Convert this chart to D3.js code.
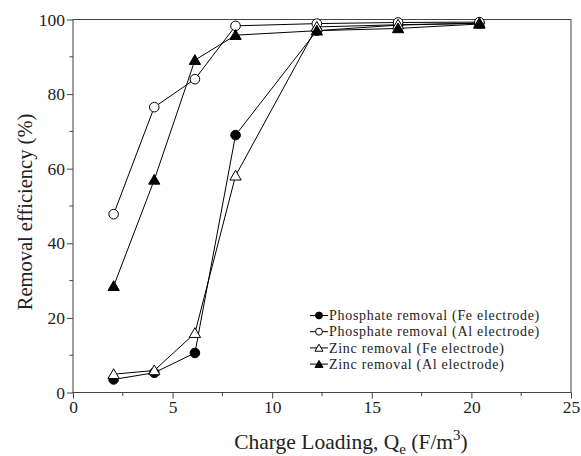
<!DOCTYPE html>
<html lang="en">
<head>
  <meta charset="UTF-8">
  <title>Removal efficiency vs charge loading</title>
  <script src="https://d3js.org/d3.v7.min.js"></script>
  <style>
    body, html { margin: 0; padding: 0; background: #fff; }
    svg { display: block; font-family: "Liberation Serif", "Times New Roman", serif; }
    .axis path, .axis line { stroke: #444; }
    .axis text { font-family: "Liberation Serif", "Times New Roman", serif; font-size: 17.5px; fill: #222; }
  </style>
</head>
<body>
  <svg id="chart" width="581" height="456"></svg>
  <script>
    // Data
    const charge = [2.04, 4.08, 6.12, 8.16, 12.24, 16.32, 20.4];
    const phosFe = [3.5, 5.3, 10.6, 69.0, 97.0, 98.5, 99.0];
    const phosAl = [47.8, 76.5, 84.0, 98.3, 98.9, 99.2, 99.3];
    const zincFe = [4.9, 5.9, 15.9, 58.1, 98.0, 98.6, 99.0];
    const zincAl = [28.5, 57.0, 89.1, 95.8, 97.0, 97.6, 98.8];
    const xTicks = [0, 5, 10, 15, 20, 25];
    const yTicks = [0, 20, 40, 60, 80, 100];

    const series = [
      { name: 'Phosphate removal (Fe electrode)', values: phosFe, shape: 'circle', fill: '#000' },
      { name: 'Phosphate removal (Al electrode)', values: phosAl, shape: 'circle', fill: '#fff' },
      { name: 'Zinc removal (Fe electrode)', values: zincFe, shape: 'triangle', fill: '#fff' },
      { name: 'Zinc removal (Al electrode)', values: zincAl, shape: 'triangle', fill: '#000' }
    ];

    const W = 581, H = 456;
    const margin = { top: 19.5, right: 10, bottom: 63.5, left: 73 };
    const svg = d3.select('#chart');

    const x = d3.scaleLinear().domain([0, 25]).range([margin.left, W - margin.right]);
    const y = d3.scaleLinear().domain([0, 100]).range([H - margin.bottom, margin.top]);

    // frame
    svg.append('rect')
      .attr('x', margin.left).attr('y', margin.top)
      .attr('width', W - margin.left - margin.right)
      .attr('height', H - margin.top - margin.bottom)
      .attr('fill', 'none').attr('stroke', '#444');

    // minor ticks
    const minorX = d3.range(2.5, 25, 5);
    const minorY = d3.range(10, 100, 20);
    svg.append('g').selectAll('line').data(minorX).join('line')
      .attr('x1', d => x(d)).attr('x2', d => x(d))
      .attr('y1', y(0)).attr('y2', y(0) + 3.5).attr('stroke', '#444');
    svg.append('g').selectAll('line').data(minorY).join('line')
      .attr('y1', d => y(d)).attr('y2', d => y(d))
      .attr('x1', x(0)).attr('x2', x(0) - 3.5).attr('stroke', '#444');

    svg.append('g').attr('class', 'axis')
      .attr('transform', `translate(0,${y(0)})`)
      .call(d3.axisBottom(x).tickValues(xTicks).tickSize(6).tickPadding(2).tickFormat(d3.format('d')))
      .call(g => g.select('.domain').remove());

    svg.append('g').attr('class', 'axis')
      .attr('transform', `translate(${x(0)},0)`)
      .call(d3.axisLeft(y).tickValues(yTicks).tickSize(6).tickPadding(2).tickFormat(d3.format('d')))
      .call(g => g.select('.domain').remove());

    // axis titles
    const xt = svg.append('text')
      .attr('x', 351).attr('y', 449)
      .attr('text-anchor', 'middle').attr('font-size', 21.5).attr('fill', '#222');
    xt.append('tspan').text('Charge Loading, Q');
    xt.append('tspan').attr('dy', 5).attr('font-size', 15).text('e');
    xt.append('tspan').attr('dy', -5).text(' (F/m');
    xt.append('tspan').attr('dy', -9).attr('font-size', 15).text('3');
    xt.append('tspan').attr('dy', 9).text(')');

    svg.append('text')
      .attr('transform', `translate(32,212) rotate(-90)`)
      .attr('text-anchor', 'middle').attr('font-size', 20.5).attr('fill', '#222')
      .text('Removal efficiency (%)');

    function drawMarker(g, s, cx, cy, scale) {
      if (s.shape === 'circle') {
        g.append('circle').attr('cx', cx).attr('cy', cy).attr('r', 4.8 * scale)
          .attr('fill', s.fill).attr('stroke', '#000').attr('stroke-width', 1);
      } else {
        g.append('path').attr('d', d3.symbol().type(d3.symbolTriangle).size(55 * scale * scale)())
          .attr('transform', `translate(${cx},${cy + 1})`)
          .attr('fill', s.fill).attr('stroke', '#000').attr('stroke-width', 1);
      }
    }

    const line = d3.line().x(d => x(d[0])).y(d => y(d[1]));
    series.forEach(s => {
      const pts = charge.map((c, i) => [c, s.values[i]]);
      svg.append('path').datum(pts).attr('d', line)
        .attr('fill', 'none').attr('stroke', '#000').attr('stroke-width', 1);
    });
    series.forEach(s => {
      const g = svg.append('g');
      charge.forEach((c, i) => drawMarker(g, s, x(c), y(s.values[i]), 1));
    });

    // legend (rows kept a bit apart so the labels do not collide)
    const leg = svg.append('g');
    series.forEach((s, i) => {
      const ly = 315.5 + i * 16.2;
      leg.append('line').attr('x1', 310).attr('x2', 328).attr('y1', ly).attr('y2', ly)
        .attr('stroke', '#000').attr('stroke-width', 1);
      drawMarker(leg, s, 319, ly, 0.72);
      leg.append('text').attr('x', 329).attr('y', ly + 4.6)
        .attr('font-size', 14).attr('letter-spacing', 0.7)
        .attr('fill', '#222').text(s.name);
    });
  </script>
</body>
</html>
